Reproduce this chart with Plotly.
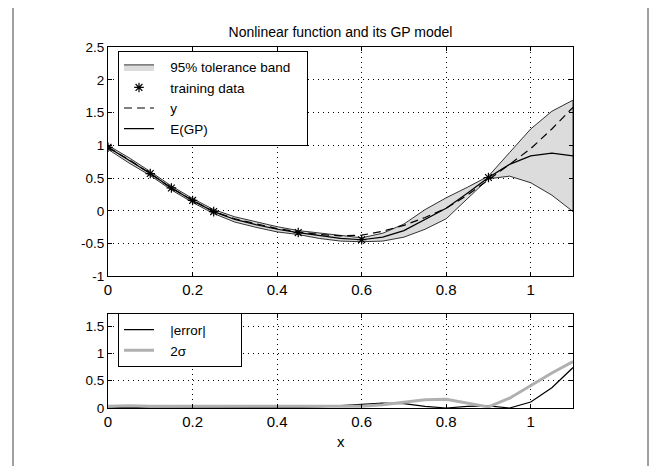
import plotly.graph_objects as go

# GP model on a grid of 0.05 from 0 to 1.1
x_grid = [0.0, 0.05, 0.1, 0.15, 0.2, 0.25, 0.3, 0.35, 0.4, 0.45, 0.5, 0.55,
          0.6, 0.65, 0.7, 0.75, 0.8, 0.85, 0.9, 0.95, 1.0, 1.05, 1.1]
y_true = [0.97, 0.78, 0.57, 0.35, 0.16, -0.01, -0.12, -0.20, -0.27, -0.32, -0.36, -0.38,
          -0.37, -0.31, -0.22, -0.10, 0.04, 0.24, 0.47, 0.71, 0.95, 1.25, 1.58]
gp_mean = [0.97, 0.77, 0.57, 0.35, 0.16, -0.01, -0.13, -0.21, -0.28, -0.33, -0.38, -0.42,
           -0.44, -0.40, -0.30, -0.13, 0.04, 0.27, 0.51, 0.71, 0.84, 0.88, 0.84]
two_sigma = [0.03, 0.04, 0.03, 0.03, 0.03, 0.03, 0.04, 0.04, 0.04, 0.03, 0.04, 0.04,
             0.03, 0.06, 0.10, 0.15, 0.16, 0.09, 0.02, 0.18, 0.41, 0.64, 0.85]

# training data
x_train = [0.0, 0.1, 0.15, 0.2, 0.25, 0.45, 0.6, 0.9]
y_train = [0.97, 0.57, 0.35, 0.16, -0.01, -0.33, -0.44, 0.51]

x_ticks = [0, 0.2, 0.4, 0.6, 0.8, 1]
x_ticklabels = ["0", "0.2", "0.4", "0.6", "0.8", "1"]
y_ticks_top = [-1, -0.5, 0, 0.5, 1, 1.5, 2, 2.5]
y_ticklabels_top = ["-1", "-0.5", "0", "0.5", "1", "1.5", "2", "2.5"]
y_ticks_bot = [0, 0.5, 1, 1.5]
y_ticklabels_bot = ["0", "0.5", "1", "1.5"]

upper = [m + s for m, s in zip(gp_mean, two_sigma)]
lower = [m - s for m, s in zip(gp_mean, two_sigma)]
abs_error = [abs(a - b) for a, b in zip(y_true, gp_mean)]

FONT = "Liberation Sans, Arial, sans-serif"
NB = "\u00a0"  # non-breaking spaces push legend text like the matlab layout


def label(text, trail=0):
    return NB * 3 + text + NB * trail


fig = go.Figure()

# top panel
fig.add_trace(go.Scatter(
    x=x_grid + x_grid[::-1], y=upper + lower[::-1],
    fill="toself", fillcolor="#dcdcdc", mode="lines",
    line=dict(color="black", width=0.8),
    name=label("95% tolerance band", 3), legend="legend",
))
fig.add_trace(go.Scatter(
    x=x_train, y=y_train, mode="markers",
    marker=dict(symbol="asterisk-open", size=8, color="black",
                line=dict(color="black", width=1.2)),
    name=label("training data"), legend="legend",
))
fig.add_trace(go.Scatter(
    x=x_grid, y=y_true, mode="lines",
    line=dict(color="black", width=1.2, dash="8px,5px"),
    name=label("y"), legend="legend",
))
fig.add_trace(go.Scatter(
    x=x_grid, y=gp_mean, mode="lines",
    line=dict(color="black", width=1.2),
    name=label("E(GP)"), legend="legend",
))

# bottom panel
fig.add_trace(go.Scatter(
    x=x_grid, y=abs_error, mode="lines",
    line=dict(color="black", width=1.2),
    name=label("|error|", 8), legend="legend2", xaxis="x2", yaxis="y2",
))
fig.add_trace(go.Scatter(
    x=x_grid, y=two_sigma, mode="lines",
    line=dict(color="#b0b0b0", width=3),
    name=label("2σ"), legend="legend2", xaxis="x2", yaxis="y2",
))

axis_common = dict(
    showline=True, linecolor="black", linewidth=1, mirror="ticks",
    ticks="inside", ticklen=4, tickcolor="black",
    showgrid=True, gridcolor="black", gridwidth=1, griddash="1px,4px",
    zeroline=False,
)
xfont = dict(size=15, color="black")
yfont = dict(size=13.5, color="black")
legend_common = dict(
    x=0.0215, xanchor="left", yanchor="top",
    bgcolor="white", bordercolor="black", borderwidth=1,
    font=dict(size=13.5), tracegroupgap=0,
)

# the page body adds an 8px offset, margins compensate for it
fig.update_layout(
    width=659, height=466,
    margin=dict(l=100, r=94, t=39, b=66),
    paper_bgcolor="white", plot_bgcolor="white",
    font=dict(family=FONT, size=14, color="black"),
    title=dict(text="Nonlinear function and its GP model", x=0.5, xref="paper",
               y=1 - 24 / 466, yanchor="middle", font=dict(size=14)),
    xaxis=dict(domain=[0, 1], range=[0, 1.1], anchor="y", tickfont=xfont,
               tickvals=x_ticks, ticktext=x_ticklabels, **axis_common),
    yaxis=dict(domain=[0.3643, 1], range=[-1, 2.5], anchor="x", tickfont=yfont,
               tickvals=y_ticks_top, ticktext=y_ticklabels_top, **axis_common),
    xaxis2=dict(domain=[0, 1], range=[0, 1.1], anchor="y2", tickfont=xfont,
                tickvals=x_ticks, ticktext=x_ticklabels, **axis_common),
    yaxis2=dict(domain=[0, 0.2604], range=[0, 1.72], anchor="x2", tickfont=yfont,
                tickvals=y_ticks_bot, ticktext=y_ticklabels_bot, **axis_common),
    legend=dict(y=0.99, **legend_common),
    legend2=dict(y=0.262, **legend_common),
    showlegend=True,
    annotations=[dict(text="x", xref="paper", yref="paper", x=0.5, y=-0.094,
                      showarrow=False, yanchor="middle", font=dict(size=15))],
    shapes=[dict(type="rect", xref="paper", yref="paper",
                 x0=-0.2043, x1=1.1613, y0=-0.6, y1=1.1219,
                 line=dict(color="#808080", width=1.5), layer="below")],
)

fig.write_html("out.html")
